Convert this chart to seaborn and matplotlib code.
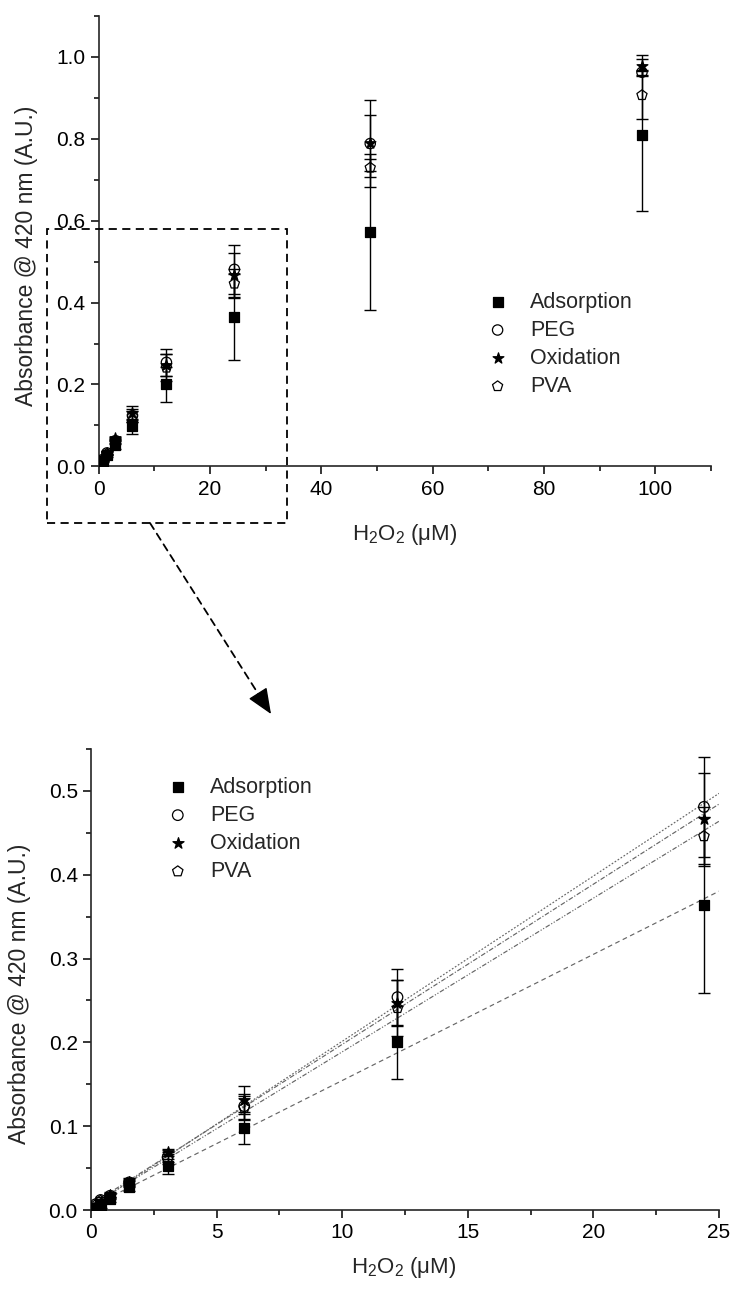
import numpy as np
import pandas as pd
import seaborn as sns
import matplotlib.pyplot as plt
from matplotlib.patches import Rectangle
from matplotlib.ticker import MultipleLocator, FormatStrFormatter

# H2O2 concentrations (uM)
conc = [0.19, 0.38, 0.76, 1.52, 3.05, 6.1, 12.2, 24.4, 48.8, 97.6]
series = ['Adsorption', 'PEG', 'Oxidation', 'PVA']

adsorption = [0.003, 0.006, 0.013, 0.027, 0.052, 0.098, 0.200, 0.3645, 0.573, 0.809]
adsorption_err = [0.002, 0.003, 0.003, 0.004, 0.009, 0.019, 0.0435, 0.105, 0.19, 0.185]
peg = [0.007, 0.012, 0.017, 0.033, 0.063, 0.124, 0.254, 0.481, 0.788, 0.962]
peg_err = [0.002, 0.003, 0.003, 0.004, 0.006, 0.015, 0.033, 0.060, 0.107, 0.006]
oxidation = [0.005, 0.010, 0.018, 0.034, 0.069, 0.131, 0.247, 0.467, 0.789, 0.978]
oxidation_err = [0.002, 0.002, 0.003, 0.004, 0.004, 0.017, 0.027, 0.054, 0.068, 0.025]
pva = [0.006, 0.011, 0.016, 0.031, 0.061, 0.122, 0.241, 0.446, 0.729, 0.906]
pva_err = [0.002, 0.002, 0.003, 0.004, 0.006, 0.014, 0.033, 0.035, 0.022, 0.059]

values = [adsorption, peg, oxidation, pva]
errors = [adsorption_err, peg_err, oxidation_err, pva_err]

rows = []
for name, v, e in zip(series, values, errors):
    for c, y, err in zip(conc, v, e):
        rows.append((name, c, y, err))
df = pd.DataFrame(rows, columns=['series', 'conc', 'absorbance', 'err'])

markers = {'Adsorption': 's', 'PEG': 'o', 'Oxidation': '*', 'PVA': 'p'}
sizes = {'Adsorption': 45, 'PEG': 58, 'Oxidation': 70, 'PVA': 62}
filled = {'Adsorption': True, 'PEG': False, 'Oxidation': True, 'PVA': False}
fit_styles = {'Adsorption': (0, (4, 3)), 'PEG': (0, (1.5, 1.5)),
              'Oxidation': (0, (4, 1.5, 1, 1.5)), 'PVA': (0, (4, 1.5, 1, 1.5, 1, 1.5))}

sns.set_style('ticks')
plt.rcParams['font.family'] = ['Liberation Sans', 'DejaVu Sans']
plt.rcParams['mathtext.default'] = 'regular'
plt.rcParams['axes.linewidth'] = 1.2
for a in ['xtick', 'ytick']:
    plt.rcParams[a + '.major.size'] = 6
    plt.rcParams[a + '.minor.size'] = 3.5
    plt.rcParams[a + '.major.width'] = 1.1
    plt.rcParams[a + '.minor.width'] = 1.1
    plt.rcParams[a + '.color'] = 'black'
    plt.rcParams[a + '.direction'] = 'out'

fig = plt.figure(figsize=(7.34, 12.95), dpi=100)
ax1 = fig.add_axes([0.1342, 0.6398, 0.8345, 0.3481])
ax2 = fig.add_axes([0.124, 0.0656, 0.8556, 0.356])


def draw_points(ax, scale):
    for name in series:
        sub = df[df.series == name]
        ax.errorbar(sub.conc, sub.absorbance, yerr=sub.err, fmt='none',
                    ecolor='black', elinewidth=1, capsize=4.5, capthick=1, zorder=2)
        sns.scatterplot(data=sub, x='conc', y='absorbance', marker=markers[name],
                        s=sizes[name] * scale, color='black', edgecolor='black',
                        linewidth=0.9, label=name, ax=ax, zorder=3, legend=False)
        if not filled[name]:
            ax.collections[-1].set_facecolor('none')


# top panel: full range
draw_points(ax1, 0.95)
ax1.set_xlim(0, 110)
ax1.set_ylim(0, 1.1)
ax1.xaxis.set_major_locator(MultipleLocator(20))
ax1.xaxis.set_minor_locator(MultipleLocator(10))
ax1.yaxis.set_major_locator(MultipleLocator(0.2))
ax1.yaxis.set_minor_locator(MultipleLocator(0.1))
ax1.yaxis.set_major_formatter(FormatStrFormatter('%.1f'))

# bottom panel: linear range with fits
ax2.set_xlim(0, 25)
lin = df[df.conc <= 25]
for name in series:
    sub = lin[lin.series == name]
    sns.regplot(data=sub, x='conc', y='absorbance', scatter=False, ci=None,
                truncate=False, color='0.4', ax=ax2,
                line_kws={'ls': fit_styles[name], 'lw': 0.85, 'zorder': 1})
draw_points(ax2, 1.0)
ax2.set_xlim(0, 25)
ax2.set_ylim(0, 0.55)
ax2.xaxis.set_major_locator(MultipleLocator(5))
ax2.xaxis.set_minor_locator(MultipleLocator(2.5))
ax2.yaxis.set_major_locator(MultipleLocator(0.1))
ax2.yaxis.set_minor_locator(MultipleLocator(0.05))
ax2.yaxis.set_major_formatter(FormatStrFormatter('%.1f'))

xlab = 'H$_2$O$_2$ (μM)'
ylab = 'Absorbance @ 420 nm (A.U.)'
for ax, xl, yl in [(ax1, (0.499, -0.123), (-0.099, 0.467)),
                   (ax2, (0.497, -0.098), (-0.0955, 0.469))]:
    sns.despine(ax=ax)
    ax.set_xlabel(xlab, fontsize=16)
    ax.set_ylabel(ylab, fontsize=16.5)
    ax.xaxis.set_label_coords(*xl)
    ax.yaxis.set_label_coords(*yl)
    ax.tick_params(labelsize=15)

leg_kw = dict(loc='upper left', frameon=False, fontsize=15.5, handlelength=1.0,
              handletextpad=1.0, labelspacing=0.33, borderpad=0, borderaxespad=0)
ax1.legend(bbox_to_anchor=(0.634, 0.388), **leg_kw)
ax2.legend(bbox_to_anchor=(0.121, 0.94), **leg_kw)

# zoom box and arrow (dashed shaft, solid head)
ax1.add_patch(Rectangle((-9.2, -0.139), 43.1, 0.718, fill=False, ec='black',
                        lw=1.3, ls=(0, (4.5, 3)), clip_on=False, zorder=5))
start = np.array([150, 1295 - 523])
tip = np.array([271, 1295 - 714])
unit = (tip - start) / np.hypot(*(tip - start))
neck = tip - 22 * unit
ax1.annotate('', xy=neck + 4 * unit, xytext=start,
             xycoords='figure pixels', textcoords='figure pixels',
             arrowprops=dict(arrowstyle='-', ls=(0, (4, 3)), lw=1.3, color='black',
                             shrinkA=0, shrinkB=0))
ax1.annotate('', xy=tip, xytext=neck,
             xycoords='figure pixels', textcoords='figure pixels',
             arrowprops=dict(arrowstyle='-|>,head_length=1.0,head_width=0.42',
                             lw=1.0, color='black', mutation_scale=16,
                             shrinkA=0, shrinkB=0))

fig.savefig('out.png', dpi=100)
